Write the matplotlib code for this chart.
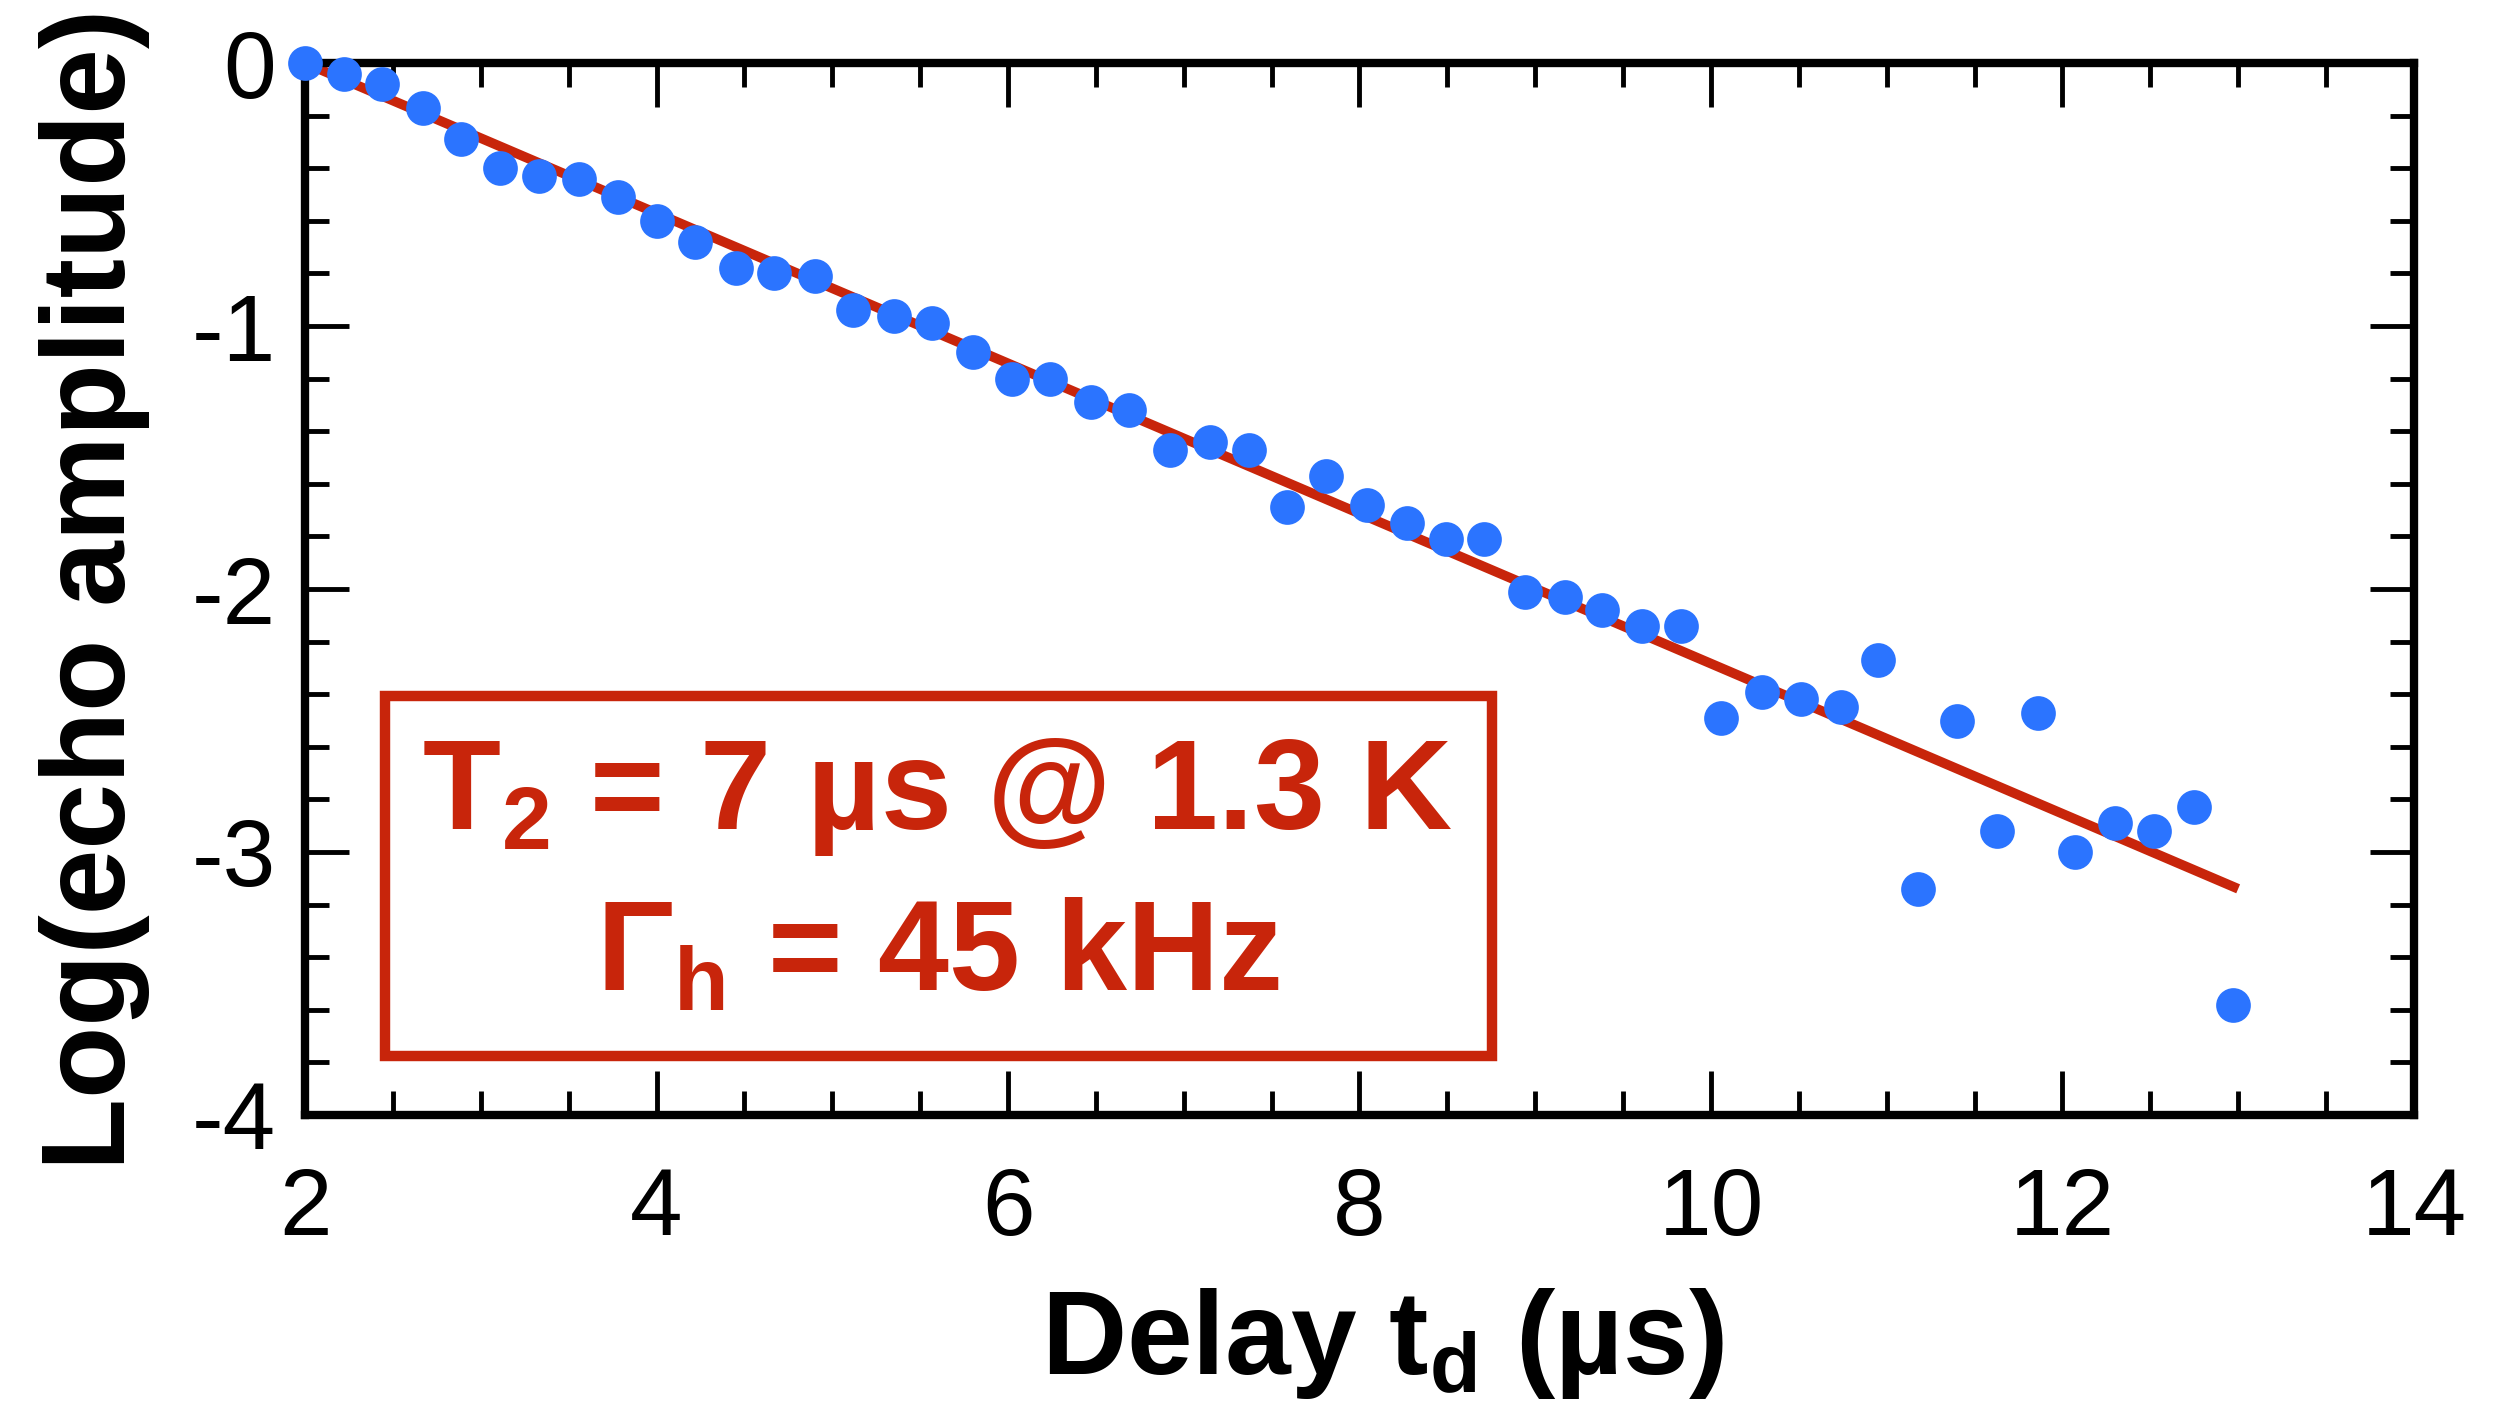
import numpy as np
import matplotlib
matplotlib.use("Agg")
import matplotlib.pyplot as plt
from matplotlib.patches import Rectangle
from matplotlib.ticker import MultipleLocator

plt.rcParams['font.family'] = ['Liberation Sans', 'DejaVu Sans']
plt.rcParams['mathtext.fontset'] = 'custom'
plt.rcParams['mathtext.rm'] = 'Liberation Sans'
plt.rcParams['mathtext.bf'] = 'Liberation Sans:bold'
plt.rcParams['mathtext.it'] = 'Liberation Sans:italic'
plt.rcParams['axes.unicode_minus'] = False

# echo decay data (delay in us, log of echo amplitude)
delay = [2.00, 2.22, 2.44, 2.67, 2.89, 3.11, 3.33, 3.56, 3.78, 4.00,
         4.22, 4.45, 4.67, 4.90, 5.12, 5.35, 5.57, 5.80, 6.02, 6.24,
         6.47, 6.69, 6.92, 7.15, 7.37, 7.59, 7.81, 8.04, 8.27, 8.49,
         8.71, 8.94, 9.17, 9.38, 9.61, 9.83, 10.06, 10.29, 10.51, 10.74,
         10.95, 11.18, 11.40, 11.63, 11.86, 12.07, 12.30, 12.52, 12.75, 12.97]
log_amp = [0.00, -0.04, -0.08, -0.17, -0.29, -0.40, -0.43, -0.44, -0.51, -0.60,
           -0.68, -0.78, -0.80, -0.81, -0.94, -0.96, -0.99, -1.10, -1.20, -1.20,
           -1.29, -1.32, -1.47, -1.44, -1.47, -1.69, -1.57, -1.68, -1.75, -1.81,
           -1.81, -2.01, -2.03, -2.08, -2.14, -2.14, -2.49, -2.39, -2.42, -2.45,
           -2.27, -3.14, -2.50, -2.92, -2.47, -3.00, -2.89, -2.92, -2.83, -3.58]

# linear fit endpoints
fit_x = [2.0, 13.0]
fit_y = [0.0, -3.14]

red = '#c8250b'
blue = '#2b74ff'

fig = plt.figure(figsize=(25.15, 14.11), dpi=100)
ax = fig.add_axes([0.1213, 0.2098, 0.8385, 0.7455])

ax.plot(fit_x, fit_y, color=red, lw=7, zorder=2, solid_capstyle='butt')
ax.plot(delay, log_amp, 'o', color=blue, ms=25, mec='none', zorder=3, clip_on=False)

ax.set_xlim(2, 14)
ax.set_ylim(-4, 0)
ax.xaxis.set_major_locator(MultipleLocator(2))
ax.xaxis.set_minor_locator(MultipleLocator(0.5))
ax.yaxis.set_major_locator(MultipleLocator(1))
ax.yaxis.set_minor_locator(MultipleLocator(0.2))
ax.tick_params(which='both', direction='in', top=True, right=True, width=3.5)
ax.tick_params(which='major', length=32, labelsize=68)
ax.tick_params(which='minor', length=17)
ax.tick_params(axis='x', pad=37)
ax.tick_params(axis='y', pad=21)
for s in ax.spines.values():
    s.set_linewidth(6)

ax.set_xlabel(r'Delay $\mathbf{t_d}$ (µs)', fontsize=85, fontweight='bold', labelpad=22)
ax.xaxis.label.set_x(0.511)
ax.set_ylabel('Log(echo amplitude)', fontsize=85, fontweight='bold', labelpad=30)

box = Rectangle((2.456, -3.775), 6.297, 1.37, fill=False, ec=red, lw=7.5, zorder=4)
ax.add_patch(box)
ax.text(5.6, -2.79, r'$\mathbf{T_2}$ = 7 µs @ 1.3 K', color=red, fontsize=92,
        fontweight='bold', ha='center', va='center', zorder=5)
ax.text(5.6, -3.40, r'$\mathbf{\Gamma_h}$ = 45 kHz', color=red, fontsize=92,
        fontweight='bold', ha='center', va='center', zorder=5)

fig.savefig('out.png', dpi=100)
